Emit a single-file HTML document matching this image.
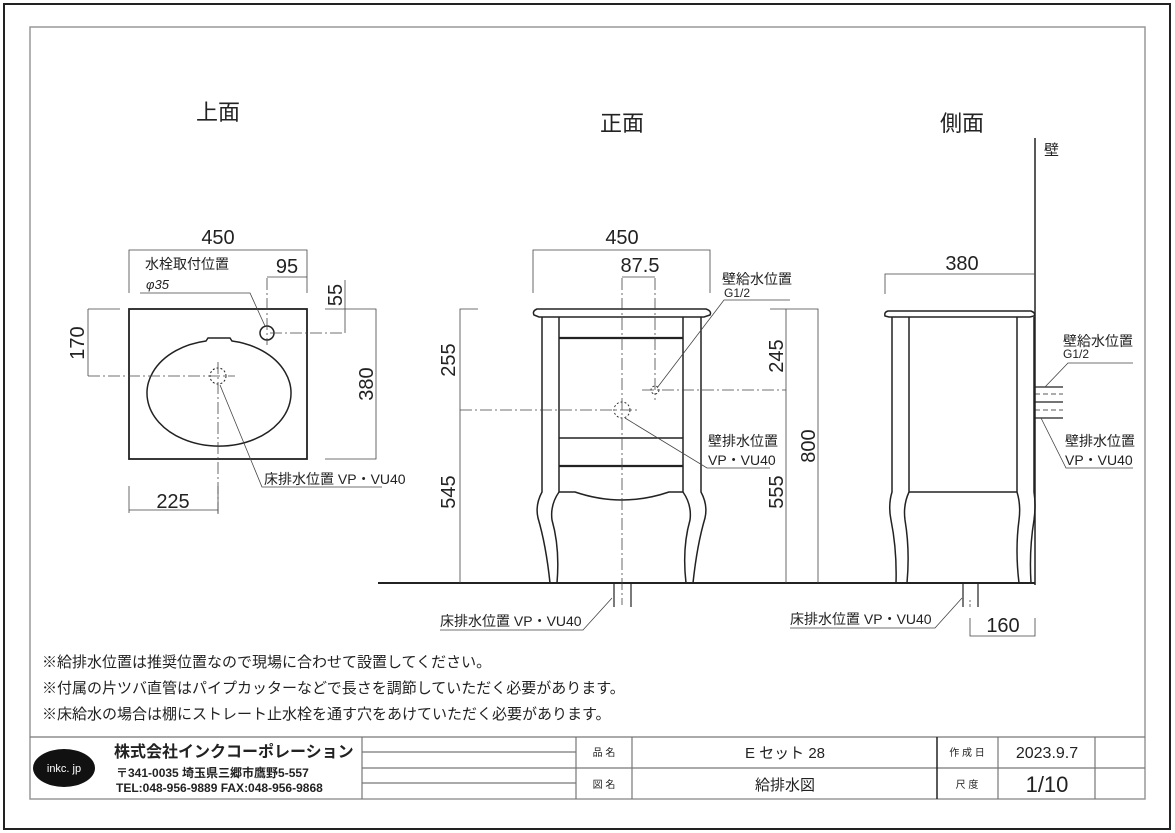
<!DOCTYPE html>
<html><head><meta charset="utf-8"><style>
html,body{margin:0;padding:0;background:#fff}
svg{display:block}
text{font-family:"Liberation Sans","Noto Sans CJK JP",sans-serif;fill:#222}
</style></head><body>
<svg width="1175" height="833" viewBox="0 0 1175 833" xmlns="http://www.w3.org/2000/svg">
<rect x="4" y="4" width="1166" height="825" fill="none" stroke="#222" stroke-width="2"/>
<rect x="30" y="27" width="1115" height="772" fill="none" stroke="#999" stroke-width="1.5"/>

<g font-size="22">
<text x="218" y="120" text-anchor="middle">上面</text>
<text x="622" y="131" text-anchor="middle">正面</text>
<text x="962" y="131" text-anchor="middle">側面</text>
</g>
<text x="1044" y="155" font-size="15">壁</text>
<line x1="1035" y1="138" x2="1035" y2="585" stroke="#222" stroke-width="1.5"/>

<!-- PLAN VIEW -->
<g fill="none" stroke="#222">
<rect x="129" y="309" width="178" height="150" stroke-width="1.8"/>
<circle cx="267" cy="333" r="7" stroke-width="1.5"/>
<path d="M206,341 L208,338 L230,338 L232,341 A72 53 0 1 1 206,341 Z" stroke-width="1.5"/>
<circle cx="218" cy="376" r="8" stroke-dasharray="2,2"/>
</g>
<g stroke="#444" stroke-width="0.8" fill="none">
<path d="M88,376 H235" stroke-dasharray="12,3,2,3"/>
<path d="M218,362 V515" stroke-dasharray="12,3,2,3"/>
<path d="M267,278 V345" stroke-dasharray="12,3,2,3"/>
<path d="M270,333 H345" stroke-dasharray="12,3,2,3"/>
<path d="M129,293 V250 H307 V293"/>
<path d="M267,277 H307"/>
<path d="M345,280 V333"/>
<path d="M325,309 H376 V459 H325"/>
<path d="M88,309 V376 M88,309 H120"/>
<path d="M129,486 V513 M218,513 V486 M129,510 H218"/>
<path d="M140,293 H250 L265,326"/>
<path d="M220,385 L262,487 H382"/>
</g>
<g font-size="20" text-anchor="middle">
<text x="218" y="244">450</text>
<text x="287" y="273">95</text>
<text x="173" y="508">225</text>
<text transform="translate(342,295) rotate(-90)">55</text>
<text transform="translate(84,343) rotate(-90)">170</text>
<text transform="translate(373,384) rotate(-90)">380</text>
</g>
<text x="145" y="269" font-size="14">水栓取付位置</text>
<text x="146" y="289" font-size="13" font-style="italic">φ35</text>
<text x="264" y="484" font-size="14">床排水位置 VP・VU40</text>

<!-- FRONT VIEW -->
<line x1="378" y1="583" x2="1035" y2="583" stroke="#222" stroke-width="2"/>
<g fill="none" stroke="#222" stroke-width="1.5">
<path d="M537,309 H706 Q712,311 710,315 L704,317 H539 L534,315 Q532,311 537,309 Z"/>
<path d="M542,317 V492 Q535,505 538,518 Q546,545 550,583 H547"/>
<path d="M559,317 V492 Q550,505 552,520 Q560,548 557,583 H547"/>
<path d="M701,317 V492 Q708,505 705,518 Q697,545 693,583 H696"/>
<path d="M683,317 V492 Q692,505 690,520 Q682,548 686,583 H696"/>
<path d="M559,338 H683" stroke-width="2.2"/>
<path d="M559,438 H683"/>
<path d="M559,466 H683" stroke-width="2.2"/>
<path d="M559,492 H575 Q622,508 669,492 H683"/>
<circle cx="622" cy="410" r="8" stroke-width="0.9" stroke-dasharray="2,2"/>
<circle cx="655" cy="390" r="4" stroke-width="0.9" stroke-dasharray="2,2"/>
<path d="M614,583 V607 M631,583 V607" stroke-width="1.2"/>
</g>
<g stroke="#444" stroke-width="0.8" fill="none">
<path d="M622,278 V605" stroke-dasharray="12,3,2,3"/>
<path d="M655,278 V400" stroke-dasharray="12,3,2,3"/>
<path d="M460,410 H640" stroke-dasharray="12,3,2,3"/>
<path d="M642,390 H786" stroke-dasharray="12,3,2,3"/>
<path d="M533,293 V250 H710 V293"/>
<path d="M622,277 H655"/>
<path d="M478,309 H460 V583"/>
<path d="M770,309 H818 V583 M786,309 V583"/>
<path d="M657,388 L724,300 H790"/>
<path d="M625,418 L707,468 H770"/>
<path d="M440,630 H583 L612,598"/>
</g>
<g font-size="20" text-anchor="middle">
<text x="622" y="244">450</text>
<text x="640" y="272">87.5</text>
<text transform="translate(455,360) rotate(-90)">255</text>
<text transform="translate(455,492) rotate(-90)">545</text>
<text transform="translate(783,356) rotate(-90)">245</text>
<text transform="translate(783,492) rotate(-90)">555</text>
<text transform="translate(815,446) rotate(-90)">800</text>
</g>
<text x="722" y="284" font-size="14">壁給水位置</text>
<text x="724" y="297" font-size="12">G1/2</text>
<text x="708" y="446" font-size="14">壁排水位置</text>
<text x="708" y="465" font-size="14">VP・VU40</text>
<text x="440" y="626" font-size="14">床排水位置 VP・VU40</text>

<!-- SIDE VIEW -->
<g fill="none" stroke="#222" stroke-width="1.5">
<path d="M888,311 H1031 Q1036,313 1034,316 L1030,317 H889 L885,316 Q884,312 888,311 Z"/>
<path d="M892,317 V492 Q888,505 891,520 Q897,550 896,583 M909,317 V492 Q903,505 905,520 Q910,550 907,583"/>
<path d="M1017,317 V492 Q1021,505 1019,520 Q1015,550 1019,583 M1034,317 V492 Q1036,505 1034,520 Q1029,550 1031,583"/>
<path d="M909,492 H1017"/>
<path d="M1035,387 H1063 M1035,402 H1063 M1035,418 H1063" stroke-width="1.2"/>
<path d="M1035,394 H1063 M1035,410 H1063" stroke-width="0.8" stroke-dasharray="5,3"/>
<path d="M963,583 V607 M978,583 V607" stroke-width="1.2"/>
</g>
<g stroke="#444" stroke-width="0.8" fill="none">
<path d="M885,294 V274 H1035"/>
<path d="M1045,387 L1068,363 H1133"/>
<path d="M1041,418 L1066,468 H1133"/>
<path d="M790,628 H935 L962,598"/>
<path d="M970,618 V636 H1035 V618"/>
<path d="M970,607 V600" stroke-dasharray="3,2"/>
</g>
<text x="962" y="270" font-size="20" text-anchor="middle">380</text>
<text x="1003" y="632" font-size="20" text-anchor="middle">160</text>
<text x="1063" y="346" font-size="14">壁給水位置</text>
<text x="1063" y="358" font-size="12">G1/2</text>
<text x="1065" y="446" font-size="14">壁排水位置</text>
<text x="1065" y="465" font-size="14">VP・VU40</text>
<text x="790" y="624" font-size="14">床排水位置 VP・VU40</text>

<!-- NOTES -->
<g font-size="15">
<text x="42" y="667">※給排水位置は推奨位置なので現場に合わせて設置してください。</text>
<text x="42" y="693">※付属の片ツバ直管はパイプカッターなどで長さを調節していただく必要があります。</text>
<text x="42" y="719">※床給水の場合は棚にストレート止水栓を通す穴をあけていただく必要があります。</text>
</g>

<!-- TITLE BLOCK -->
<g stroke="#777" stroke-width="1.2" fill="none">
<path d="M30,737 H1145 M362,768 H1145 M362,752 H576 M362,783 H576"/>
<path d="M362,737 V799 M576,737 V799 M632,737 V799 M998,737 V799 M1095,737 V799"/>
</g>
<line x1="937" y1="737" x2="937" y2="799" stroke="#222" stroke-width="1.5"/>
<ellipse cx="64" cy="768" rx="31" ry="19" fill="#111"/>
<text x="64" y="772" font-size="11" fill="#fff" style="fill:#fff" text-anchor="middle">inkc. jp</text>
<text x="114" y="757" font-size="16" font-weight="bold">株式会社インクコーポレーション</text>
<text x="116" y="777" font-size="12" font-weight="bold">〒341-0035 埼玉県三郷市鷹野5-557</text>
<text x="116" y="792" font-size="12" font-weight="bold">TEL:048-956-9889  FAX:048-956-9868</text>
<g font-size="10" text-anchor="middle">
<text x="604" y="756">品 名</text>
<text x="604" y="788">図 名</text>
<text x="967" y="756">作 成 日</text>
<text x="967" y="788">尺 度</text>
</g>
<text x="785" y="758" font-size="15" text-anchor="middle">E セット 28</text>
<text x="785" y="790" font-size="15" text-anchor="middle">給排水図</text>
<text x="1047" y="758" font-size="16" text-anchor="middle">2023.9.7</text>
<text x="1047" y="792" font-size="22" text-anchor="middle">1/10</text>
</svg>
</body></html>
